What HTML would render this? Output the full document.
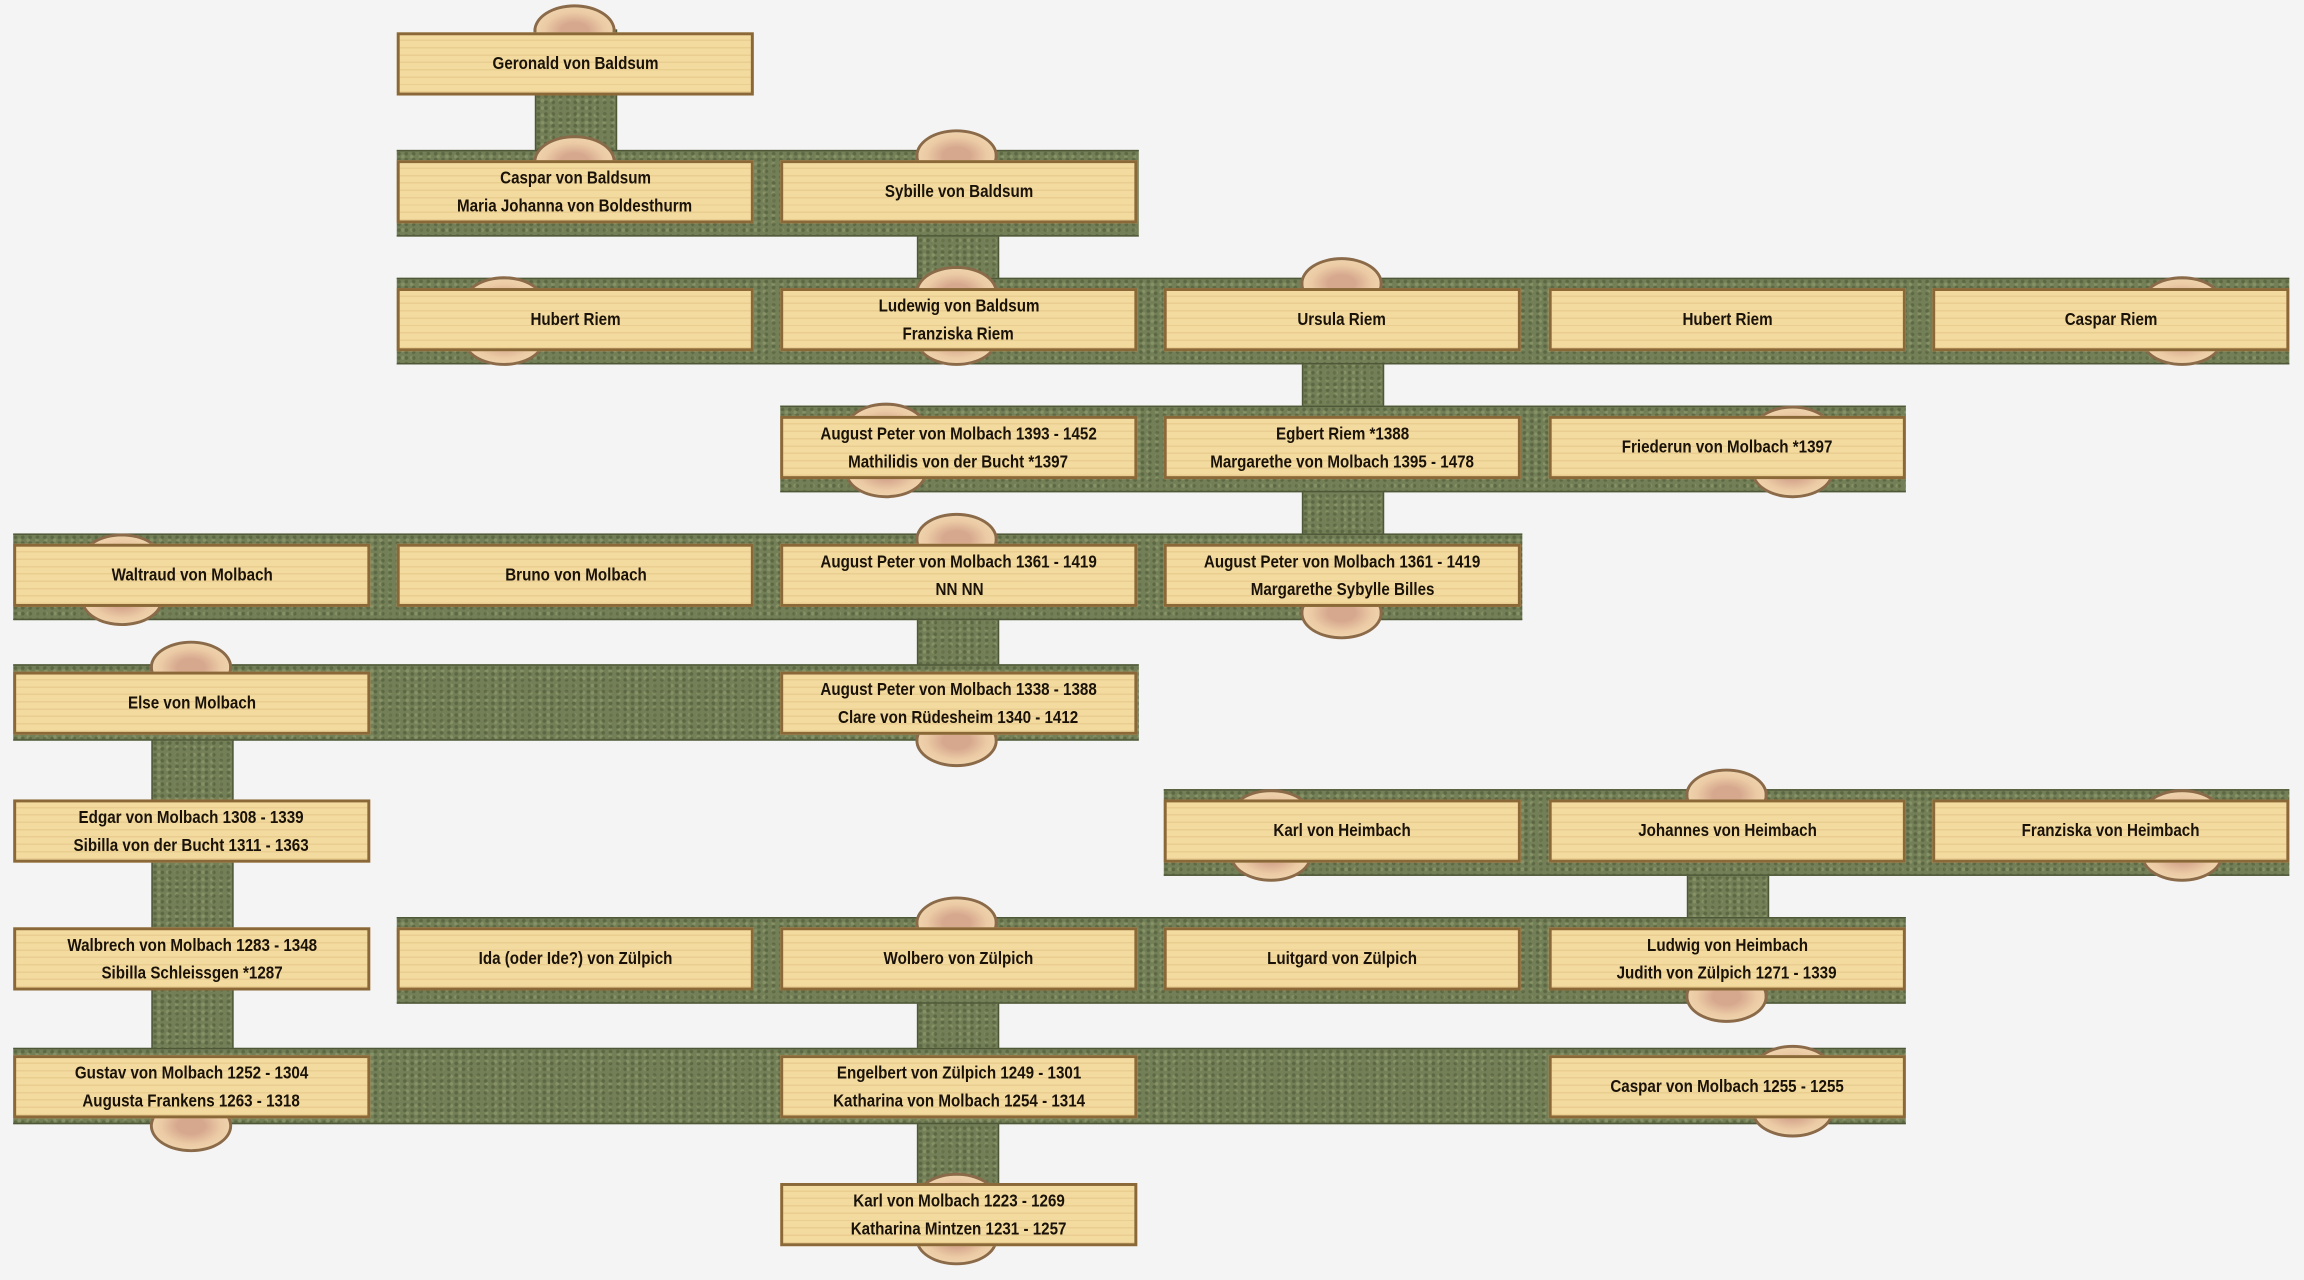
<!DOCTYPE html>
<html><head><meta charset="utf-8"><style>
html,body{margin:0;padding:0;background:#f4f4f4;overflow:hidden}
#w{position:absolute;left:0;top:0;width:1568px;height:871px;transform:scale(1.46939,1.46958);transform-origin:0 0}
.bar{position:absolute;background:#737f57;background-image:radial-gradient(circle at 30% 40%,rgba(50,60,30,.35) 0 1px,transparent 1.5px),radial-gradient(circle at 70% 70%,rgba(170,180,130,.35) 0 1px,transparent 1.5px);background-size:5px 4px,6px 5px;border-top:1px solid #4e5838;border-bottom:1px solid #4e5838}
.vb{position:absolute;width:54px;background:#737f57;background-image:radial-gradient(circle at 30% 40%,rgba(50,60,30,.35) 0 1px,transparent 1.5px),radial-gradient(circle at 70% 70%,rgba(170,180,130,.35) 0 1px,transparent 1.5px);background-size:5px 4px,6px 5px;border-left:1px solid #4e5838;border-right:1px solid #4e5838}
.s{position:absolute;width:56px;height:36px;border-radius:50%;background:radial-gradient(ellipse at center,#d6a88e 0 25%,#ebcaa5 55%,#f0d7ae 80%);border:2px solid #8a6a48;box-sizing:border-box}
.b{position:absolute;width:243px;height:43px;box-sizing:border-box;border:2px solid #8a6838;background:#f3dba0;background-image:repeating-linear-gradient(0deg,rgba(200,160,90,.22) 0 1px,transparent 1px 5px);display:flex;flex-direction:column;justify-content:center;align-items:center;font-family:"Liberation Sans Narrow","Liberation Sans",sans-serif;font-weight:bold;font-size:12px;line-height:19px;color:#1a1208;text-align:center}
.b div,.b span{display:block;transform:scaleX(.86);white-space:nowrap}
</style></head><body><div id="w">
<div class="vb" style="left:364px;top:20px;height:100px"></div>
<div class="vb" style="left:624px;top:130px;height:80px"></div>
<div class="vb" style="left:886px;top:220px;height:170px"></div>
<div class="vb" style="left:624px;top:390px;height:90px"></div>
<div class="vb" style="left:103px;top:480px;height:260px"></div>
<div class="vb" style="left:1148px;top:560px;height:90px"></div>
<div class="vb" style="left:624px;top:650px;height:175px"></div>
<div class="bar" style="left:270px;top:102px;width:505px;height:57px"></div>
<div class="bar" style="left:270px;top:189px;width:1288px;height:57px"></div>
<div class="bar" style="left:531px;top:276px;width:766px;height:57px"></div>
<div class="bar" style="left:9px;top:363px;width:1027px;height:57px"></div>
<div class="bar" style="left:9px;top:452px;width:766px;height:50px"></div>
<div class="bar" style="left:792px;top:537px;width:766px;height:57px"></div>
<div class="bar" style="left:270px;top:624px;width:1027px;height:57px"></div>
<div class="bar" style="left:9px;top:713px;width:1288px;height:50px"></div>
<div class="s" style="left:363px;top:3px"></div>
<div class="s" style="left:363px;top:92px"></div>
<div class="s" style="left:623px;top:88px"></div>
<div class="s" style="left:315px;top:188px"></div>
<div class="s" style="left:315px;top:213px"></div>
<div class="s" style="left:623px;top:181px"></div>
<div class="s" style="left:623px;top:213px"></div>
<div class="s" style="left:885px;top:175px"></div>
<div class="s" style="left:1457px;top:188px"></div>
<div class="s" style="left:1457px;top:213px"></div>
<div class="s" style="left:575px;top:274px"></div>
<div class="s" style="left:575px;top:303px"></div>
<div class="s" style="left:1192px;top:276px"></div>
<div class="s" style="left:1192px;top:303px"></div>
<div class="s" style="left:55px;top:363px"></div>
<div class="s" style="left:55px;top:390px"></div>
<div class="s" style="left:623px;top:349px"></div>
<div class="s" style="left:885px;top:399px"></div>
<div class="s" style="left:102px;top:436px"></div>
<div class="s" style="left:623px;top:486px"></div>
<div class="s" style="left:837px;top:537px"></div>
<div class="s" style="left:837px;top:564px"></div>
<div class="s" style="left:1147px;top:523px"></div>
<div class="s" style="left:1457px;top:537px"></div>
<div class="s" style="left:1457px;top:564px"></div>
<div class="s" style="left:623px;top:610px"></div>
<div class="s" style="left:1147px;top:660px"></div>
<div class="s" style="left:102px;top:748px"></div>
<div class="s" style="left:1192px;top:711px"></div>
<div class="s" style="left:1192px;top:738px"></div>
<div class="s" style="left:623px;top:798px"></div>
<div class="s" style="left:623px;top:825px"></div>
<div class="b" style="left:270px;top:22px"><span>Geronald von Baldsum</span></div>
<div class="b" style="left:270px;top:109px"><div>Caspar von Baldsum</div><div>Maria Johanna von Boldesthurm</div></div>
<div class="b" style="left:531px;top:109px"><span>Sybille von Baldsum</span></div>
<div class="b" style="left:270px;top:196px"><span>Hubert Riem</span></div>
<div class="b" style="left:531px;top:196px"><div>Ludewig von Baldsum</div><div>Franziska Riem</div></div>
<div class="b" style="left:792px;top:196px"><span>Ursula Riem</span></div>
<div class="b" style="left:1054px;top:196px"><span>Hubert Riem</span></div>
<div class="b" style="left:1315px;top:196px"><span>Caspar Riem</span></div>
<div class="b" style="left:531px;top:283px"><div>August Peter von Molbach 1393 - 1452</div><div>Mathilidis von der Bucht *1397</div></div>
<div class="b" style="left:792px;top:283px"><div>Egbert Riem *1388</div><div>Margarethe von Molbach 1395 - 1478</div></div>
<div class="b" style="left:1054px;top:283px"><span>Friederun von Molbach *1397</span></div>
<div class="b" style="left:9px;top:370px"><span>Waltraud von Molbach</span></div>
<div class="b" style="left:270px;top:370px"><span>Bruno von Molbach</span></div>
<div class="b" style="left:531px;top:370px"><div>August Peter von Molbach 1361 - 1419</div><div>NN NN</div></div>
<div class="b" style="left:792px;top:370px"><div>August Peter von Molbach 1361 - 1419</div><div>Margarethe Sybylle Billes</div></div>
<div class="b" style="left:9px;top:457px"><span>Else von Molbach</span></div>
<div class="b" style="left:531px;top:457px"><div>August Peter von Molbach 1338 - 1388</div><div>Clare von Rüdesheim 1340 - 1412</div></div>
<div class="b" style="left:9px;top:544px"><div>Edgar von Molbach 1308 - 1339</div><div>Sibilla von der Bucht 1311 - 1363</div></div>
<div class="b" style="left:792px;top:544px"><span>Karl von Heimbach</span></div>
<div class="b" style="left:1054px;top:544px"><span>Johannes von Heimbach</span></div>
<div class="b" style="left:1315px;top:544px"><span>Franziska von Heimbach</span></div>
<div class="b" style="left:9px;top:631px"><div>Walbrech von Molbach 1283 - 1348</div><div>Sibilla Schleissgen *1287</div></div>
<div class="b" style="left:270px;top:631px"><span>Ida (oder Ide?) von Zülpich</span></div>
<div class="b" style="left:531px;top:631px"><span>Wolbero von Zülpich</span></div>
<div class="b" style="left:792px;top:631px"><span>Luitgard von Zülpich</span></div>
<div class="b" style="left:1054px;top:631px"><div>Ludwig von Heimbach</div><div>Judith von Zülpich 1271 - 1339</div></div>
<div class="b" style="left:9px;top:718px"><div>Gustav von Molbach 1252 - 1304</div><div>Augusta Frankens 1263 - 1318</div></div>
<div class="b" style="left:531px;top:718px"><div>Engelbert von Zülpich 1249 - 1301</div><div>Katharina von Molbach 1254 - 1314</div></div>
<div class="b" style="left:1054px;top:718px"><span>Caspar von Molbach 1255 - 1255</span></div>
<div class="b" style="left:531px;top:805px"><div>Karl von Molbach 1223 - 1269</div><div>Katharina Mintzen 1231 - 1257</div></div>
</div></body></html>
